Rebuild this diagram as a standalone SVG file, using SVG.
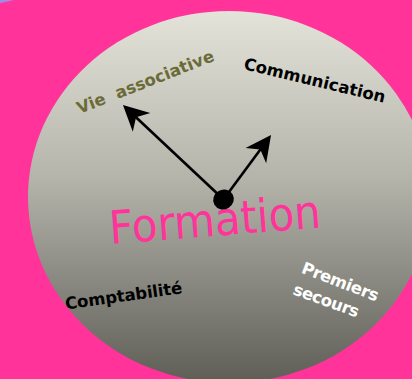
<svg xmlns="http://www.w3.org/2000/svg" width="412" height="379" viewBox="0 0 412 379">
  <defs>
    <linearGradient id="face" x1="0" y1="0" x2="0" y2="1">
      <stop offset="0" stop-color="#E3E3D9"/>
      <stop offset="0.45" stop-color="#B4B4AB"/>
      <stop offset="1" stop-color="#5E5E57"/>
    </linearGradient>
    <marker id="arrow" viewBox="-14 -14 28 28" refX="0" refY="0" markerWidth="28" markerHeight="28" markerUnits="userSpaceOnUse" orient="auto">
      <path d="M12,0 L-13.5,-12.8 L-6,0 L-13.5,12.8 Z" fill="#000"/>
    </marker>
  </defs>
  <style>
    .lbl { font-family: "DejaVu Sans", Verdana, sans-serif; font-weight: bold; font-size: 16.5px; }
    .hand { stroke: #000; stroke-width: 2.6; fill: none; marker-end: url(#arrow); }
  </style>

  <rect id="background" x="0" y="0" width="412" height="379" fill="#FF3399"/>
  <path d="M0,0 L14,0 Q6,2 0,3 Z" fill="#A08CE6"/>

  <g id="dial">
    <ellipse cx="229" cy="197" rx="201" ry="186" fill="url(#face)"/>
  </g>

  <g id="node-formation">
    <text transform="translate(110.5,244) rotate(-4.5)" font-family="DejaVu Sans, Verdana, sans-serif" font-size="46" fill="#FF3399" textLength="212" lengthAdjust="spacingAndGlyphs">Formation</text>
  </g>

  <g id="node-vie-associative">
    <text class="lbl" transform="translate(79.5,114) rotate(-21.5)" fill="#6B6B38" xml:space="preserve" textLength="146">Vie  associative</text>
  </g>

  <g id="node-communication">
    <text class="lbl" transform="translate(243,69) rotate(13.5)" fill="#000" textLength="145">Communication</text>
  </g>

  <g id="node-comptabilite">
    <text class="lbl" transform="translate(66,309.5) rotate(-8)" fill="#000" textLength="118">Comptabilité</text>
  </g>

  <g id="node-premiers-secours">
    <text class="lbl" transform="translate(300.5,272.5) rotate(21)" fill="#FFFFFF" textLength="81">Premiers</text>
    <text class="lbl" transform="translate(292,294) rotate(20)" fill="#FFFFFF" textLength="69">secours</text>
  </g>

  <g id="connectors">
    <line class="hand" x1="222" y1="198" x2="131.7" y2="113.2"/>
    <line class="hand" x1="226" y1="196" x2="263.9" y2="144.7"/>
  </g>

  <g id="node-center">
    <ellipse cx="223.5" cy="199.5" rx="10.5" ry="9.8" transform="rotate(-30 223.5 199.5)" fill="#000"/>
  </g>
</svg>
